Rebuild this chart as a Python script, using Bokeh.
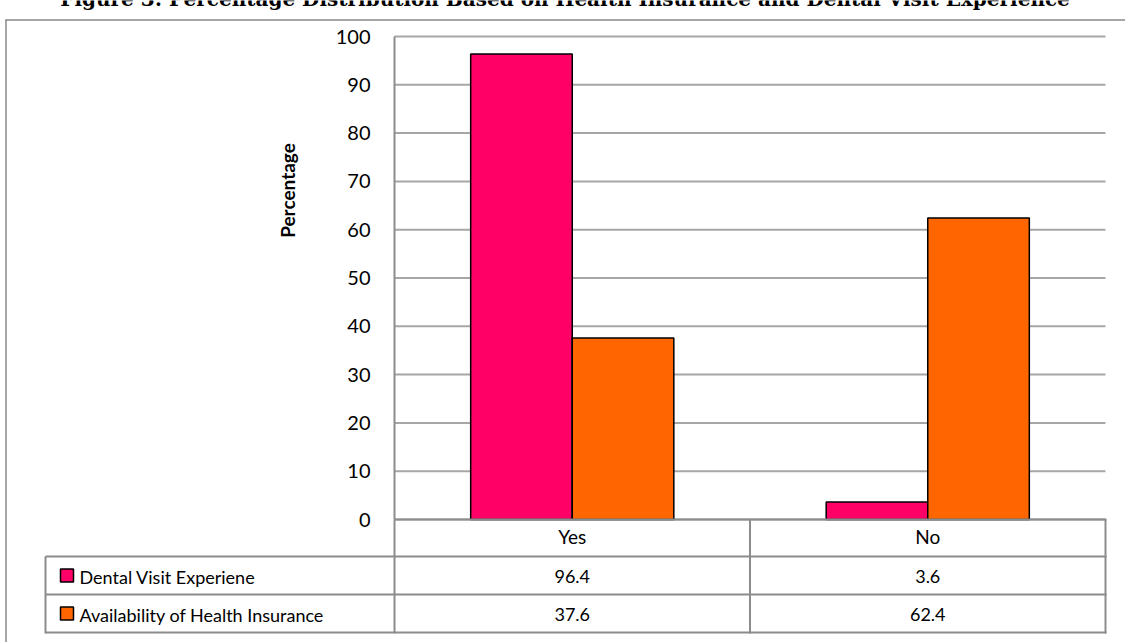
from math import pi
from bokeh.plotting import figure
from bokeh.models import (ColumnDataSource, Range1d, FixedTicker, LinearAxis)
from bokeh.core.properties import value
from bokeh.embed import file_html
from bokeh.resources import INLINE

# ---------------- data ----------------
categories = ["Yes", "No"]
series_names = ["Dental Visit Experiene", "Availability of Health Insurance"]
dental_visit = [96.4, 3.6]
health_insurance = [37.6, 62.4]
y_ticks = [0, 10, 20, 30, 40, 50, 60, 70, 80, 90, 100]
title_text = "Figure 3:  Percentage Distribution Based on Health Insurance and Dental Visit Experience"
y_title = "Percentage"

# ---------------- style / layout ----------------
colors = ["#FF0066", "#FF6600"]
GRID = "#A6A6A6"
TABLE = "#8C8C8C"
FONT = "Lato"
W, H = 1125, 642
FL, FR, FT, FB = 394, 1105, 36, 519     # plot area in canvas px
Y_MAX = 100
ncat = len(categories)

# ranges so that the whole canvas is the frame and the plot area lands on FL..FR x FT..FB
ppu_y = (FB - FT) / Y_MAX
ppu_x = (FR - FL) / ncat
y_range = Range1d(-(H - FB) / ppu_y, Y_MAX + FT / ppu_y)
x_range = Range1d(-FL / ppu_x, ncat + (W - FR) / ppu_x)

p = figure(width=W, height=H, output_backend="svg", toolbar_location=None,
           x_range=x_range, y_range=y_range,
           x_axis_location=None, y_axis_location=None,
           min_border=0, min_border_left=0, min_border_right=0,
           min_border_top=0, min_border_bottom=0)
p.outline_line_color = None
p.background_fill_color = "white"
p.border_fill_color = "white"
p.grid.visible = False
# pixel coordinates for the surrounding furniture (table, frame, titles)
p.extra_x_ranges = {"px": Range1d(0, W)}
p.extra_y_ranges = {"px": Range1d(H, 0)}

# ---------------- gridlines ----------------
p.segment(x0=[0] * len(y_ticks), x1=[ncat] * len(y_ticks), y0=y_ticks, y1=y_ticks,
          line_color=GRID, line_width=2)

# ---------------- bars ----------------
bw = 1 / 3.5  # gap width 150 %
centers = [i + 0.5 for i in range(ncat)]
src = ColumnDataSource(dict(cat=categories,
                            x1=[c - bw / 2 for c in centers],
                            x2=[c + bw / 2 for c in centers],
                            dental=dental_visit, ins=health_insurance))
p.vbar(x="x1", top="dental", bottom=0, width=bw, source=src,
       fill_color=colors[0], line_color="black", line_width=1.5)
p.vbar(x="x2", top="ins", bottom=0, width=bw, source=src,
       fill_color=colors[1], line_color="black", line_width=1.5)

# ---------------- y axis (fixed at the plot-area left edge) ----------------
yax = LinearAxis(fixed_location=0, bounds=(0, Y_MAX), ticker=FixedTicker(ticks=y_ticks))
yax.axis_line_color = TABLE
yax.axis_line_width = 2
yax.major_tick_line_color = None
yax.minor_tick_line_color = None
yax.major_tick_out = 0
yax.major_tick_in = 0
yax.major_label_standoff = 24
yax.major_label_text_font = FONT
yax.major_label_text_font_size = "20px"
yax.major_label_text_color = "black"
p.add_layout(yax, "left")

# ---------------- x axis (category header row) ----------------
xax = LinearAxis(fixed_location=0, ticker=FixedTicker(ticks=centers),
                 major_label_overrides={c: lab for c, lab in zip(centers, categories)})
xax.axis_line_color = None
xax.major_tick_line_color = None
xax.minor_tick_line_color = None
xax.major_tick_out = 0
xax.major_tick_in = 0
xax.major_label_standoff = 5
xax.major_label_text_font = FONT
xax.major_label_text_font_size = "19px"
xax.major_label_text_color = "black"
p.add_layout(xax, "below")

# ---------------- furniture in pixel coordinates ----------------
PX = dict(x_range_name="px", y_range_name="px")

# outer frame of the figure image
p.segment(x0=[5, 5.5], x1=[W + 5, 5.5], y0=[19.5, 19], y1=[19.5, H + 5],
          line_color="#8A8A8A", line_width=1.5, **PX)

# title, cut by the top edge of the image
p.text(x=[568], y=[-2], text=[title_text], text_font=value("DejaVu Serif"),
       text_font_size="20px", text_font_style="bold", text_align="center",
       text_baseline="alphabetic", text_color="black", **PX)

# y axis title
p.text(x=[287], y=[190], text=[y_title], text_font=value(FONT), text_font_size="19px",
       text_font_style="bold", text_align="center", text_baseline="middle",
       angle=pi / 2, text_color="black", **PX)

# data table grid
col_edges = [FL, FL + ppu_x, FR]
row_edges = [FB, 556, 594, 632]
hx0, hx1, hy = [FL], [FR + 1], [row_edges[0]]
for yy in row_edges[1:]:
    hx0.append(45); hx1.append(FR + 1); hy.append(yy)
p.segment(x0=hx0, x1=hx1, y0=hy, y1=hy, line_color=TABLE, line_width=2, **PX)
vx = [45] + col_edges
vy0 = [row_edges[1]] + [row_edges[0]] * len(col_edges)
vy1 = [row_edges[-1] + 1] * len(vx)
p.segment(x0=vx, x1=vx, y0=vy0, y1=vy1, line_color=TABLE, line_width=2, **PX)

# legend keys, series names and values
series_values = [dental_visit, health_insurance]
row_centers = [(row_edges[i + 1] + row_edges[i + 2]) / 2 for i in range(len(series_names))]
p.rect(x=[66.5] * len(series_names), y=row_centers, width=13, height=13,
       fill_color=colors, line_color="black", line_width=1.5, **PX)
p.text(x=[79] * len(series_names), y=[r + 1 for r in row_centers], text=series_names,
       text_font=value(FONT), text_font_size="18px", text_align="left",
       text_baseline="middle", text_color="black", **PX)
vals_x, vals_y, vals_t = [], [], []
for i, vals in enumerate(series_values):
    for j, v in enumerate(vals):
        vals_x.append((col_edges[j] + col_edges[j + 1]) / 2)
        vals_y.append(row_centers[i] + 1)
        vals_t.append(f"{v:.1f}")
p.text(x=vals_x, y=vals_y, text=vals_t, text_font=value(FONT), text_font_size="18px",
       text_align="center", text_baseline="middle", text_color="black", **PX)

open("out.html", "w").write(file_html(p, INLINE))
